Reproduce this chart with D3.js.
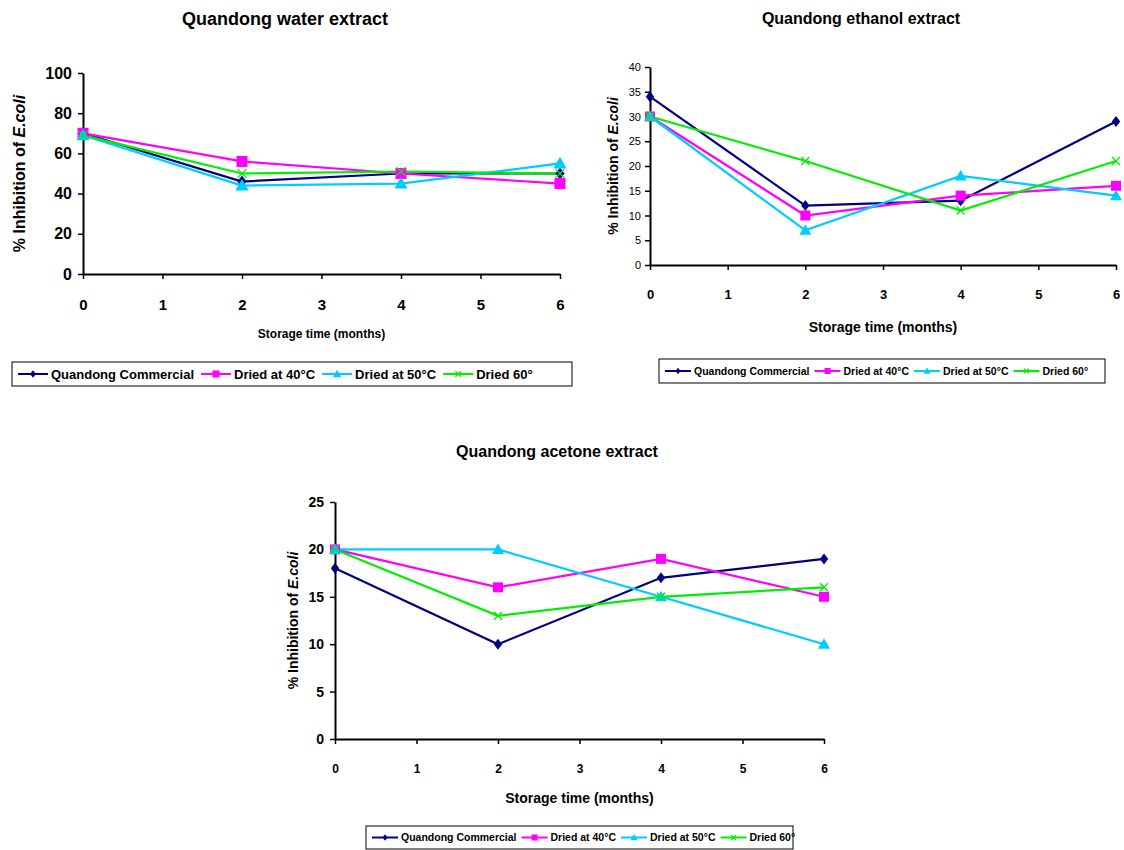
<!DOCTYPE html>
<html><head><meta charset="utf-8">
<script src="https://cdn.jsdelivr.net/npm/d3@7"></script>
<style>body{margin:0;background:#fff;font-family:"Liberation Sans",Arial,sans-serif}</style>
</head><body>
<svg id="c" width="1124" height="850"></svg>
<script>
const months = [0, 2, 4, 6];
const seriesNames = ["Quandong Commercial", "Dried at 40°C", "Dried at 50°C", "Dried 60°"];
const waterCommercial = [70, 46, 50, 50];
const water40 = [70, 56, 50, 45];
const water50 = [69, 44, 45, 55];
const water60 = [69, 50, 51, 50];
const ethanolCommercial = [34, 12, 13, 29];
const ethanol40 = [30, 10, 14, 16];
const ethanol50 = [30, 7, 18, 14];
const ethanol60 = [30, 21, 11, 21];
const acetoneCommercial = [18, 10, 17, 19];
const acetone40 = [20, 16, 19, 15];
const acetone50 = [20, 20, 15, 10];
const acetone60 = [20, 13, 15, 16];
const xTicks = [0, 1, 2, 3, 4, 5, 6];
const waterYTicks = [0, 20, 40, 60, 80, 100];
const ethanolYTicks = [0, 5, 10, 15, 20, 25, 30, 35, 40];
const acetoneYTicks = [0, 5, 10, 15, 20, 25];

const colors = ["#000080", "#FF00FF", "#00CCFF", "#00EE00"];
const shapes = ["diamond", "square", "triangle", "x"];
const svg = d3.select("#c");

function marker(g, shape, x, y, color, s) {
  if (shape === "diamond") {
    g.append("path").attr("d", `M${x},${y-s*0.55}L${x+s*0.42},${y}L${x},${y+s*0.55}L${x-s*0.42},${y}Z`).attr("fill", color);
  } else if (shape === "square") {
    g.append("rect").attr("x", x - s/2).attr("y", y - s/2).attr("width", s).attr("height", s).attr("fill", color);
  } else if (shape === "triangle") {
    g.append("path").attr("d", `M${x},${y-s*0.6}L${x+s*0.6},${y+s*0.45}L${x-s*0.6},${y+s*0.45}Z`).attr("fill", color);
  } else {
    const h = s*0.4;
    g.append("path").attr("d", `M${x-h},${y-h}L${x+h},${y+h}M${x-h},${y+h}L${x+h},${y-h}`).attr("stroke", color).attr("stroke-width", 1.3).attr("fill", "none");
  }
}

function panel(cfg) {
  const g = svg.append("g");
  const x = d3.scaleLinear().domain([0, 6]).range([cfg.x0, cfg.x1]);
  const y = d3.scaleLinear().domain([0, cfg.ymax]).range([cfg.y0, cfg.y1]);
  g.append("text").attr("x", cfg.titleX).attr("y", cfg.titleY).attr("text-anchor", "middle")
    .attr("font-weight", "bold").attr("font-size", cfg.titleSize).text(cfg.title);
  const ya = g.append("g").attr("transform", `translate(${cfg.x0},0)`)
    .call(d3.axisLeft(y).tickValues(cfg.yTicks).tickFormat(d3.format("d")).tickSize(5).tickSizeOuter(0).tickPadding(cfg.yPad));
  ya.select(".domain").attr("stroke", "#000").attr("stroke-width", 2);
  ya.selectAll(".tick line").attr("stroke", "#000").attr("stroke-width", 1.5);
  ya.selectAll(".tick text").attr("font-family", "Liberation Sans, Arial").attr("font-size", cfg.yTickSize)
    .attr("font-weight", cfg.yTickBold ? "bold" : "normal").attr("fill", "#000");
  const xa = g.append("g").attr("transform", `translate(0,${cfg.y0})`)
    .call(d3.axisBottom(x).tickValues(xTicks).tickFormat(d3.format("d")).tickSize(5).tickSizeOuter(0).tickPadding(cfg.xPad));
  xa.select(".domain").attr("stroke", "#000").attr("stroke-width", 2);
  xa.selectAll(".tick line").attr("stroke", "#000").attr("stroke-width", 1.5);
  xa.selectAll(".tick text").attr("font-family", "Liberation Sans, Arial").attr("font-size", cfg.xTickSize)
    .attr("font-weight", "bold").attr("fill", "#000");
  g.append("text").attr("x", (cfg.x0 + cfg.x1) / 2).attr("y", cfg.xLabelY).attr("text-anchor", "middle")
    .attr("font-weight", "bold").attr("font-size", cfg.xLabelSize).text("Storage time (months)");
  const yl = g.append("text").attr("transform", `translate(${cfg.yLabelX},${(cfg.y0 + cfg.y1) / 2}) rotate(-90)`)
    .attr("text-anchor", "middle").attr("font-weight", "bold").attr("font-size", cfg.yLabelSize);
  yl.append("tspan").text("% Inhibition of ");
  yl.append("tspan").attr("font-style", "italic").text("E.coli");
  const line = d3.line().x((d, i) => x(months[i])).y(d => y(d));
  cfg.data.forEach((vals, si) => {
    g.append("path").datum(vals).attr("d", line).attr("fill", "none")
      .attr("stroke", colors[si]).attr("stroke-width", 2.2);
  });
  cfg.data.forEach((vals, si) => {
    vals.forEach((v, i) => marker(g, shapes[si], x(months[i]), y(v), colors[si], cfg.ms));
  });
  const L = cfg.legend;
  g.append("rect").attr("x", L.x).attr("y", L.y).attr("width", L.w).attr("height", L.h)
    .attr("fill", "#fff").attr("stroke", "#000").attr("stroke-width", 1);
  let lx = L.x + 6;
  const ly = L.y + L.h / 2;
  seriesNames.forEach((name, si) => {
    g.append("line").attr("x1", lx).attr("x2", lx + L.line).attr("y1", ly).attr("y2", ly)
      .attr("stroke", colors[si]).attr("stroke-width", 2);
    marker(g, shapes[si], lx + L.line / 2, ly, colors[si], L.ms);
    const t = g.append("text").attr("x", lx + L.line + 3).attr("y", ly + L.fs * 0.36)
      .attr("font-weight", "bold").attr("font-size", L.fs).text(name);
    lx += L.line + 3 + t.node().getComputedTextLength() + L.gap;
  });
}

panel({
  title: "Quandong water extract", titleX: 285, titleY: 25, titleSize: 18,
  x0: 83, x1: 560, y0: 274, y1: 73, ymax: 100, yTicks: waterYTicks,
  yTickSize: 16, yTickBold: true, yPad: 6, xTickSize: 15, xPad: 20,
  xLabelY: 338, xLabelSize: 12, yLabelX: 25, yLabelSize: 16, ms: 11,
  data: [waterCommercial, water40, water50, water60],
  legend: { x: 12, y: 362, w: 560, h: 24, line: 30, fs: 13, ms: 7, gap: 7 }
});
panel({
  title: "Quandong ethanol extract", titleX: 861, titleY: 24, titleSize: 16,
  x0: 650, x1: 1116, y0: 265, y1: 67, ymax: 40, yTicks: ethanolYTicks,
  yTickSize: 11, yTickBold: false, yPad: 4, xTickSize: 13, xPad: 20,
  xLabelY: 332, xLabelSize: 14, yLabelX: 618, yLabelSize: 14, ms: 10,
  data: [ethanolCommercial, ethanol40, ethanol50, ethanol60],
  legend: { x: 659, y: 359, w: 446, h: 24, line: 26, fs: 10.5, ms: 6, gap: 5 }
});
panel({
  title: "Quandong acetone extract", titleX: 557, titleY: 457, titleSize: 16,
  x0: 335, x1: 824, y0: 739, y1: 502, ymax: 25, yTicks: acetoneYTicks,
  yTickSize: 14, yTickBold: true, yPad: 6, xTickSize: 12, xPad: 20,
  xLabelY: 803, xLabelSize: 14, yLabelX: 298, yLabelSize: 14, ms: 10,
  data: [acetoneCommercial, acetone40, acetone50, acetone60],
  legend: { x: 366, y: 826, w: 427, h: 23, line: 26, fs: 10.5, ms: 6, gap: 5 }
});
</script>
</body></html>
